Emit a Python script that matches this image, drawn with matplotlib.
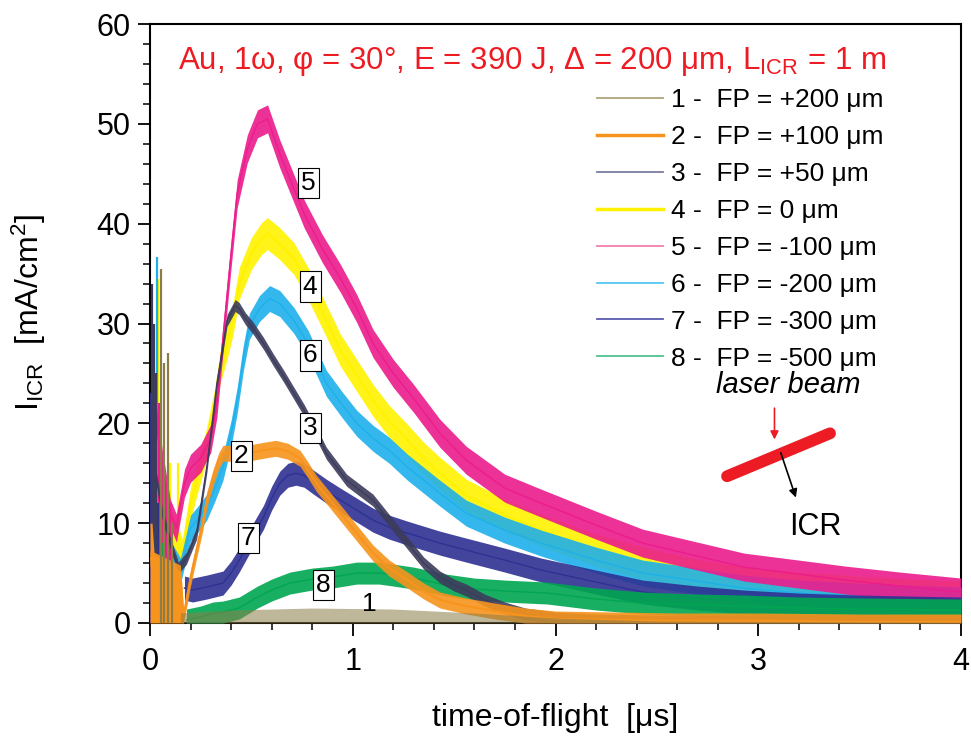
import matplotlib
matplotlib.use("Agg")
import matplotlib.pyplot as plt
from matplotlib.lines import Line2D
from matplotlib.ticker import MultipleLocator

plt.rcParams['font.family'] = ['Liberation Sans', 'DejaVu Sans']
plt.rcParams['mathtext.fontset'] = 'custom'
plt.rcParams['mathtext.rm'] = 'Liberation Sans'
plt.rcParams['mathtext.it'] = 'Liberation Sans:italic'

# ---------------- data ----------------
labels = ["1 -  FP = +200 μm", "2 -  FP = +100 μm", "3 -  FP = +50 μm",
          "4 -  FP = 0 μm", "5 -  FP = -100 μm", "6 -  FP = -200 μm",
          "7 -  FP = -300 μm", "8 -  FP = -500 μm"]
colors = ["#8c7c48", "#f7941d", "#3c3c5c", "#fff200",
          "#ec1c8c", "#1eb0ea", "#2e3192", "#00a651"]
legend_colors = ["#b0a47c", "#f7941d", "#7c7ca0", "#fff200",
                 "#f080b0", "#55c8f0", "#5a5ab0", "#50c090"]

# curve 1 (tan) - only small spikes near zero: upper envelope
t1 = [0.15, 0.4, 0.8, 1.2, 1.6, 2.0, 2.5, 4.0]
y1 = [1.0, 1.3, 1.5, 1.4, 1.0, 0.5, 0.2, 0.1]

t2 = [0.0, 0.15, 0.165, 0.18, 0.20, 0.23, 0.26, 0.28, 0.31, 0.34, 0.36, 0.40, 0.48,
      0.56, 0.62, 0.68, 0.74, 0.78, 0.82, 0.88, 0.94, 1.02, 1.10, 1.18, 1.27, 1.35,
      1.43, 1.56, 1.70, 1.85, 2.0, 2.3, 2.6, 3.0, 3.5, 4.0]
y2 = [6.5, 5.0, 0.5, 2.3, 4.5, 7.3, 10.0, 12.3, 14.5, 16.3, 17.0, 17.0, 17.0,
      17.3, 17.5, 17.2, 16.5, 15.3, 14.0, 12.5, 11.0, 9.0, 7.0, 5.5, 4.3, 3.2,
      2.3, 1.7, 1.2, 0.7, 0.4, 0.3, 0.2, 0.2, 0.1, 0.1]

t3 = [0.02, 0.06, 0.10, 0.14, 0.18, 0.23, 0.28, 0.33, 0.38, 0.42, 0.44, 0.47, 0.51,
      0.56, 0.61, 0.66, 0.71, 0.76, 0.82, 0.87, 0.97, 1.10, 1.23, 1.35, 1.43, 1.50,
      1.56, 1.65, 1.75, 1.85, 2.0, 2.2, 2.5, 3.0, 3.5, 4.0]
y3 = [16.0, 11.0, 8.0, 5.5, 6.5, 9.0, 15.6, 24.0, 30.3, 31.8, 31.5, 30.5, 29.5,
      28.0, 26.3, 24.7, 23.0, 21.3, 19.0, 17.0, 14.3, 12.3, 9.0, 6.0, 4.6, 3.8,
      3.3, 2.3, 1.5, 0.9, 0.5, 0.3, 0.2, 0.2, 0.2, 0.2]

t4 = [0.02, 0.06, 0.10, 0.14, 0.16, 0.20, 0.24, 0.28, 0.32, 0.345, 0.38, 0.41, 0.44,
      0.50, 0.55, 0.58, 0.64, 0.71, 0.78, 0.84, 0.90, 0.94, 1.02, 1.10, 1.18, 1.27,
      1.35, 1.43, 1.56, 1.75, 1.93, 2.2, 2.43, 2.7, 2.93, 3.2, 3.5, 3.75, 4.0]
y4 = [18.0, 14.0, 10.0, 8.0, 6.8, 12.0, 15.0, 18.0, 22.0, 25.5, 28.0, 30.5, 34.0,
      37.0, 38.5, 39.0, 38.0, 36.5, 34.0, 31.5, 29.0, 27.3, 24.8, 22.3, 20.2, 18.3,
      16.5, 15.0, 12.8, 10.8, 9.3, 7.3, 6.0, 4.8, 4.0, 3.5, 3.1, 2.8, 2.6]

t5 = [0.02, 0.06, 0.10, 0.13, 0.17, 0.20, 0.25, 0.30, 0.33, 0.36, 0.40, 0.43, 0.48,
      0.53, 0.58, 0.64, 0.70, 0.76, 0.85, 0.94, 1.02, 1.10, 1.20, 1.30, 1.43, 1.56,
      1.75, 1.93, 2.2, 2.43, 2.7, 2.93, 3.2, 3.43, 3.7, 4.0]
y5 = [22.0, 16.0, 11.0, 9.5, 14.0, 15.5, 16.5, 18.5, 22.0, 28.5, 37.0, 43.0, 47.5,
      50.0, 50.5, 47.0, 44.0, 41.0, 37.5, 34.5, 31.5, 28.0, 25.0, 22.5, 19.0, 16.3,
      13.5, 12.0, 9.8, 8.0, 6.7, 5.6, 4.9, 4.3, 3.7, 3.1]

t6 = [0.02, 0.06, 0.10, 0.15, 0.20, 0.24, 0.28, 0.32, 0.36, 0.40, 0.43, 0.46, 0.49,
      0.54, 0.59, 0.64, 0.71, 0.78, 0.87, 0.95, 1.02, 1.10, 1.18, 1.27, 1.35, 1.43,
      1.56, 1.75, 1.93, 2.2, 2.43, 2.7, 2.93, 3.2, 3.5, 4.0]
y6 = [14.0, 10.0, 7.0, 5.2, 9.5, 10.5, 11.6, 13.5, 15.6, 19.0, 22.3, 26.5, 29.7,
      31.5, 32.5, 32.0, 30.3, 28.0, 24.0, 21.8, 20.0, 18.5, 17.3, 15.6, 14.3, 13.0,
      11.0, 9.3, 8.0, 6.3, 5.0, 4.2, 3.5, 3.0, 2.7, 2.3]

t7 = [0.17, 0.21, 0.28, 0.36, 0.40, 0.44, 0.50, 0.56, 0.60, 0.64, 0.68, 0.72, 0.76,
      0.80, 0.87, 0.94, 1.02, 1.10, 1.18, 1.27, 1.35, 1.43, 1.56, 1.75, 1.93, 2.2,
      2.43, 2.7, 2.93, 3.2, 3.5, 3.75, 4.0]
y7 = [3.5, 3.3, 3.6, 4.0, 5.0, 6.3, 8.5, 10.6, 12.5, 14.0, 14.8, 15.0, 14.8,
      14.2, 13.2, 12.3, 11.3, 10.3, 9.6, 9.0, 8.5, 8.0, 7.3, 6.3, 5.3, 4.1,
      3.1, 2.5, 2.1, 1.8, 1.6, 1.5, 1.4]

t8 = [0.18, 0.25, 0.31, 0.36, 0.44, 0.53, 0.60, 0.69, 0.80, 0.90, 1.02, 1.13, 1.20,
      1.30, 1.46, 1.60, 1.75, 1.96, 2.2, 2.43, 2.7, 2.93, 3.2, 3.5, 4.0]
y8 = [0.3, 0.6, 1.0, 1.1, 1.5, 2.6, 3.3, 4.0, 4.4, 4.6, 5.0, 5.0, 4.8,
      4.5, 3.8, 3.4, 3.2, 3.0, 2.4, 2.0, 1.8, 1.7, 1.5, 1.4, 1.3]

curves_t = [t1, t2, t3, t4, t5, t6, t7, t8]
curves_y = [y1, y2, y3, y4, y5, y6, y7, y8]
noise = [0.0, 0.8, 0.6, 1.6, 1.4, 1.3, 1.2, 1.1]   # half-width of the noise band

# early spikes near t = 0 (time, height, curve index)
spike_t = [0.005, 0.008, 0.015, 0.02, 0.02, 0.025, 0.03, 0.03, 0.035, 0.04, 0.04, 0.045,
           0.05, 0.055, 0.055, 0.06, 0.06, 0.068, 0.07, 0.08, 0.09, 0.10, 0.10, 0.11, 0.14]
spike_h = [23.0, 34.0, 18.0, 30.0, 20.0, 22.0, 10.0, 25.0, 36.7, 34.5, 12.0, 22.0,
           18.0, 35.5, 18.0, 16.0, 8.0, 26.0, 12.0, 14.0, 27.0, 16.0, 12.0, 10.0, 16.0]
spike_c = [6, 2, 6, 2, 5, 3, 7, 2, 5, 3, 6, 4,
           5, 0, 3, 4, 7, 0, 5, 4, 0, 3, 4, 0, 3]

# orange block at early time
orange_block_t = [0.0, 0.01, 0.02, 0.05, 0.10, 0.15, 0.165]
orange_block_y = [10.0, 10.0, 7.0, 6.5, 6.0, 5.0, 0.5]

# boxed curve labels: (label, t, y)
box_lab = ["5", "4", "6", "3", "2", "7", "8"]
box_t = [0.78, 0.79, 0.79, 0.79, 0.45, 0.485, 0.855]
box_y = [44.1, 33.7, 26.8, 19.5, 16.7, 8.5, 3.8]

zorders = [9, 8, 7, 2, 4, 3, 5, 6]
lws = [0.8, 1.6, 1.0, 1.6, 1.0, 1.0, 1.0, 1.0]

# ---------------- figure ----------------
fig = plt.figure(figsize=(9.71, 7.39), dpi=100)
ax = fig.add_axes([150/971, 1-623/739, 811/971, 599/739])

for i in range(8):
    t = curves_t[i]
    y = curves_y[i]
    if i == 0:
        ax.fill_between(t, [0]*len(t), y, color=colors[i], alpha=0.55, lw=0, zorder=zorders[i])
        continue
    lo = [max(v - noise[i], 0) for v in y]
    hi = [v + noise[i] for v in y]
    ax.fill_between(t, lo, hi, color=colors[i], alpha=0.9, lw=0, zorder=zorders[i])
    ax.plot(t, y, color=colors[i], lw=lws[i], zorder=zorders[i])

ax.fill_between(orange_block_t, [0]*len(orange_block_t), orange_block_y,
                color=colors[1], lw=0, zorder=8)
for tt, hh, cc in zip(spike_t, spike_h, spike_c):
    ax.vlines(tt, 0, hh, color=colors[cc], lw=1.6, zorder=zorders[cc])

for lab, tt, yy in zip(box_lab, box_t, box_y):
    ax.text(tt, yy, lab, fontsize=19, ha='center', va='center', zorder=20,
            bbox=dict(boxstyle='square,pad=0.12', fc='white', ec='black', lw=0.8))
ax.text(1.08, 1.9, "1", fontsize=19, ha='center', va='center', zorder=20)

ax.set_xlim(0, 4)
ax.set_ylim(0, 60)
ax.xaxis.set_major_locator(MultipleLocator(1))
ax.xaxis.set_minor_locator(MultipleLocator(0.2))
ax.yaxis.set_major_locator(MultipleLocator(10))
ax.yaxis.set_minor_locator(MultipleLocator(2))
ax.tick_params(which='major', direction='out', length=9, width=1.3, labelsize=22, pad=5)
ax.tick_params(axis='x', which='major', pad=8)
ax.tick_params(which='minor', direction='out', length=5, width=1.1)
ax.tick_params(top=False, right=False)
for s in ax.spines.values():
    s.set_linewidth(1.5)

ax.set_xlabel("time-of-flight  [μs]", fontsize=23)
ax.xaxis.set_label_coords(0.4994, -0.134)
ax.set_ylabel("I$_{\\mathrm{ICR}}$  [mA/cm$^{2}$]", fontsize=23)
ax.yaxis.set_label_coords(-0.126, 0.519)

ax.text(0.471, 0.937, "Au, 1ω, φ = 30°, E = 390 J, Δ = 200 μm, L$_{\\mathrm{ICR}}$ = 1 m",
        transform=ax.transAxes, fontsize=22.5, color='#ed1c24', ha='center', va='center')

handles = [Line2D([], [], color=legend_colors[i], lw=(2.5 if i in (1, 3) else 1.3))
           for i in range(8)]
ax.legend(handles, labels, loc='upper left', bbox_to_anchor=(0.551, 0.893),
          frameon=False, fontsize=19, borderpad=0, borderaxespad=0,
          handlelength=2.5, handletextpad=0.3, labelspacing=0.49)

# laser beam sketch
ax.text(3.146, 23.8, "laser beam", fontsize=21, style='italic', ha='center', va='center')
ax.annotate("", xy=(3.08, 18.1), xytext=(3.08, 21.8),
            arrowprops=dict(arrowstyle='-|>', color='#ed1c24', lw=1.2, mutation_scale=12))
ax.plot([2.846, 3.354], [14.7, 19.0], color='#ed1c24', lw=8.5, solid_capstyle='round', zorder=15)
ax.annotate("", xy=(3.19, 12.3), xytext=(3.107, 17.3),
            arrowprops=dict(arrowstyle='-|>', color='black', lw=1.2, mutation_scale=12), zorder=16)
ax.text(3.28, 9.6, "ICR", fontsize=22, ha='center', va='center')

fig.savefig("out.png", dpi=100)
